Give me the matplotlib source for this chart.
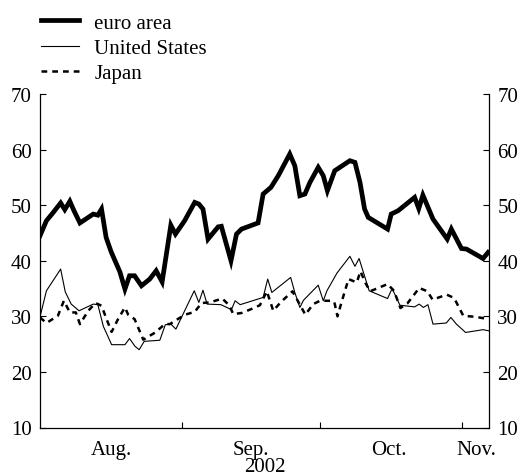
import matplotlib
matplotlib.use("Agg")
import matplotlib.pyplot as plt
import numpy as np

plt.rcParams['font.family'] = ['Liberation Serif', 'DejaVu Serif']

# Days since 1 Aug 2002 and values
euro_days = [0, 1.4, 2.8, 4.5, 5.4, 6.5, 7.4, 8.7, 11.6, 12.6, 13.4, 14.4, 15.5, 17.4, 18.5,
             19.5, 20.6, 22.1, 23.9, 25.3, 26.6, 28.5, 29.5, 31.5, 33.7, 34.6, 35.5, 36.6,
             38.8, 39.5, 41.6, 42.8, 43.9, 47.5, 48.6, 50.3, 51.9, 54.4, 55.5, 56.6, 57.7,
             58.8, 60.6, 61.7, 62.6, 64.2, 67.5, 68.6, 69.7, 70.7, 71.5, 75.7, 76.5, 78.0,
             81.6, 82.5, 83.4, 85.6, 88.7, 89.6, 91.8, 92.9, 96.5, 97.6]
euro_vals = [44.5, 47.2, 48.6, 50.4, 49.2, 50.7, 49.0, 46.8, 48.4, 48.2, 49.3, 44.2, 41.6, 38.0,
             34.9, 37.3, 37.3, 35.5, 36.7, 38.2, 36.2, 46.4, 44.8, 47.2, 50.5, 50.2, 49.3, 43.9,
             46.1, 46.2, 40.0, 44.8, 45.7, 46.8, 52.0, 53.2, 55.3, 59.2, 57.1, 51.7, 52.0,
             54.1, 56.8, 55.3, 52.6, 56.2, 58.0, 57.7, 54.1, 49.3, 47.8, 45.7, 48.4, 49.0,
             51.4, 49.4, 51.8, 47.5, 43.9, 45.7, 42.2, 42.1, 40.4, 41.5]

us_days = [0, 1.4, 4.5, 5.5, 6.8, 8.5, 11.6, 12.6, 13.8, 15.6, 18.5, 19.5, 20.7, 21.6, 22.7,
           26.1, 27.3, 28.5, 29.6, 33.6, 34.6, 35.5, 36.4, 39.4, 41.7, 42.5, 43.6, 48.6,
           49.6, 50.5, 54.6, 55.5, 56.6, 57.4, 60.6, 61.7, 62.5, 64.7, 67.5, 68.6, 69.5,
           71.7, 75.7, 76.7, 78.4, 81.6, 82.6, 83.5, 84.5, 85.6, 88.5, 89.5, 90.7, 92.7,
           96.5, 97.7]
us_vals = [29.9, 34.6, 38.5, 34.4, 32.2, 31.0, 32.2, 32.1, 28.2, 24.9, 24.9, 26.0, 24.6, 24.0,
           25.5, 25.7, 28.5, 28.6, 27.7, 34.6, 32.5, 34.7, 32.2, 32.1, 31.2, 32.8, 32.1,
           33.4, 36.7, 34.3, 37.0, 34.3, 31.6, 32.9, 35.6, 32.8, 34.6, 37.8, 40.8, 39.0,
           40.4, 34.6, 33.2, 35.0, 32.0, 31.7, 32.2, 31.6, 32.1, 28.6, 28.8, 29.8, 28.6,
           27.1, 27.6, 27.4]

jp_days = [0, 1.4, 3.9, 5.2, 6.5, 7.8, 8.7, 10.5, 12.1, 13.4, 14.5, 15.6, 17.0, 18.5, 19.2,
           20.6, 22.5, 25.1, 27.2, 28.3, 29.4, 31.6, 33.7, 35.2, 37.0, 39.7, 41.2, 42.1,
           43.9, 46.0, 47.9, 49.4, 50.1, 50.8, 52.5, 55.0, 55.8, 57.8, 59.5, 61.0, 63.2,
           64.1, 64.8, 65.7, 67.2, 69.0, 69.8, 70.9, 71.9, 75.7, 77.1, 78.5, 80.0, 82.6,
           84.4, 85.5, 88.6, 90.2, 92.2, 95.0, 97.6]
jp_vals = [29.8, 28.8, 30.1, 32.8, 30.7, 30.7, 28.6, 31.0, 32.4, 31.9, 29.5, 27.2, 29.5, 31.6,
           30.3, 29.5, 25.8, 27.1, 28.6, 28.6, 29.2, 30.3, 30.8, 32.4, 32.5, 33.2, 32.0,
           30.4, 30.6, 31.3, 32.0, 34.5, 32.8, 31.0, 32.6, 34.5, 33.3, 30.3, 32.2, 32.8,
           32.8, 32.6, 30.0, 32.6, 36.7, 36.1, 38.1, 36.0, 34.5, 35.8, 34.6, 31.5, 32.3,
           35.1, 34.5, 33.0, 33.9, 33.3, 30.1, 29.9, 29.5]

series_labels = ["euro area", "United States", "Japan"]
month_starts = [31, 61, 92]          # 1 Sep, 1 Oct, 1 Nov
month_label_pos = [15.5, 46, 76, 95]
month_labels = ["Aug.", "Sep.", "Oct.", "Nov."]
y_ticks = [10, 20, 30, 40, 50, 60, 70]
year_label = "2002"

fig = plt.figure(figsize=(5.24, 4.77), dpi=100)
ax = fig.add_axes([40/524, 1 - 428.5/477, 449/524, 333.5/477])

l1, = ax.plot(euro_days, euro_vals, color='black', lw=3.4, solid_joinstyle='miter')
l2, = ax.plot(us_days, us_vals, color='black', lw=0.8)
l3, = ax.plot(jp_days, jp_vals, color='black', lw=1.8, dashes=(2.3, 2.0))

ax.set_xlim(0, 97.8)
ax.set_ylim(10, 70)
ax.spines['top'].set_visible(False)
for s in ['left', 'right', 'bottom']:
    ax.spines[s].set_linewidth(0.9)

ax.set_yticks(y_ticks)
ax.tick_params(axis='y', which='both', direction='in', length=4, width=0.8,
               left=True, right=True, labelleft=True, labelright=True,
               labelsize=15, pad=6)
ax.set_xticks(month_starts)
ax.set_xticklabels([])
ax.set_xticks(month_label_pos, minor=True)
ax.set_xticklabels(month_labels, minor=True)
ax.tick_params(axis='x', which='major', direction='in', length=4, width=0.8)
ax.tick_params(axis='x', which='minor', length=0, labelsize=15, pad=9)
ax.set_xlabel(year_label, fontsize=15, labelpad=-1.5)

fig.legend([l1, l2, l3], series_labels, loc='upper left',
           bbox_to_anchor=(0.055, 0.997), frameon=False, fontsize=15,
           handlelength=1.8, handletextpad=0.75, labelspacing=0.28,
           borderaxespad=0.2)

fig.savefig("out.png", dpi=100)
